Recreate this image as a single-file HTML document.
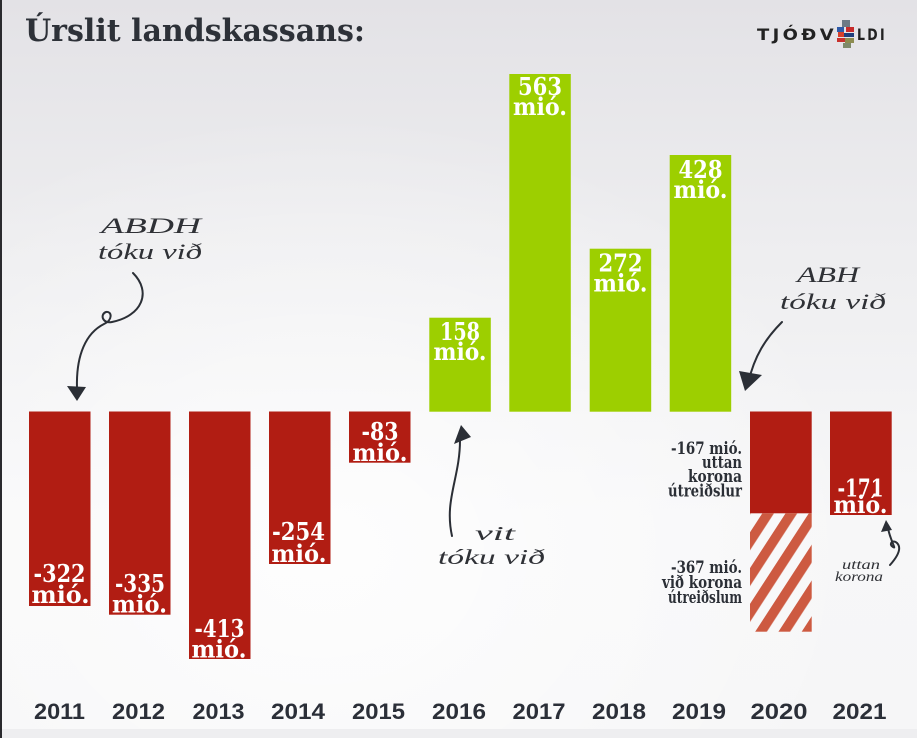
<!DOCTYPE html>
<html><head><meta charset="utf-8">
<style>
html,body{margin:0;padding:0;width:917px;height:738px;overflow:hidden;background:#f4f4f5;}
svg{display:block;}
</style></head>
<body>
<svg width="917" height="738" viewBox="0 0 917 738" xmlns="http://www.w3.org/2000/svg">
<defs>
<linearGradient id="bg" x1="0" y1="0" x2="0" y2="1">
<stop offset="0" stop-color="#e3e2e6"/>
<stop offset="0.35" stop-color="#eeeef0"/>
<stop offset="0.7" stop-color="#f7f7f8"/>
<stop offset="1" stop-color="#f6f6f7"/>
</linearGradient>
<radialGradient id="glow" cx="0.35" cy="0.75" r="0.6">
<stop offset="0" stop-color="#ffffff" stop-opacity="0.8"/>
<stop offset="1" stop-color="#ffffff" stop-opacity="0"/>
</radialGradient>
<pattern id="hatch" patternUnits="userSpaceOnUse" width="19.5" height="40" patternTransform="rotate(33 750 513)">
<rect x="0" y="0" width="9.8" height="40" fill="#cd5a41"/>
</pattern>
</defs>
<rect x="0" y="0" width="917" height="738" fill="url(#bg)"/>
<rect x="0" y="0" width="917" height="738" fill="url(#glow)"/>
<rect x="0" y="729" width="917" height="9" fill="#eeeef0"/>
<rect x="0" y="0" width="2" height="738" fill="#2a2a2e"/>

<!-- title -->
<text x="25" y="41" font-family="DejaVu Serif, Liberation Serif, serif" font-weight="bold" font-size="31" fill="#2d3138" textLength="340" lengthAdjust="spacingAndGlyphs">Úrslit landskassans:</text>

<!-- logo -->
<text x="757" y="40" font-family="DejaVu Sans, Liberation Sans, sans-serif" font-weight="bold" font-size="16" fill="#222" textLength="80" lengthAdjust="spacingAndGlyphs" letter-spacing="3">TJÓÐV</text>
<rect x="842" y="20" width="8" height="7" fill="#6d7a86"/>
<rect x="837" y="27" width="7" height="5" fill="#2f5aa8"/>
<rect x="846" y="27" width="8" height="5" fill="#c62a2a"/>
<rect x="838" y="32" width="6" height="5" fill="#d6402b"/>
<rect x="844" y="33" width="10" height="4" fill="#1f3d7a"/>
<rect x="837" y="38" width="8" height="4" fill="#c8302c"/>
<rect x="845" y="38" width="9" height="5" fill="#8d8c50"/>
<rect x="843" y="43" width="8" height="5" fill="#7e8a6a"/>
<text x="857" y="40" font-family="DejaVu Sans, Liberation Sans, sans-serif" font-weight="bold" font-size="16" fill="#222" textLength="30" lengthAdjust="spacingAndGlyphs" letter-spacing="3">LDI</text>

<!-- bars -->
<g fill="#b11d13">
<rect x="29" y="411.5" width="61.5" height="194.5"/>
<rect x="109" y="411.5" width="61.5" height="203.2"/>
<rect x="189" y="411.5" width="61.5" height="247.5"/>
<rect x="269" y="411.5" width="61.5" height="152.5"/>
<rect x="349" y="411.5" width="61.5" height="51.2"/>
<rect x="750" y="411.5" width="61.7" height="101.8"/>
<rect x="830" y="411.5" width="61.7" height="103.5"/>
</g>
<rect x="750" y="513.3" width="61.7" height="118.4" fill="url(#hatch)"/>
<g fill="#9dcf00">
<rect x="429.3" y="317.7" width="61.5" height="94"/>
<rect x="509.3" y="74" width="61.5" height="337.7"/>
<rect x="589.7" y="248.7" width="61.5" height="163"/>
<rect x="669.7" y="155" width="61.5" height="256.7"/>
</g>

<!-- bar labels -->
<g font-family="DejaVu Serif, Liberation Serif, serif" font-weight="bold" font-size="24" fill="#ffffff" text-anchor="middle">
<text x="59.5" y="582" textLength="52" lengthAdjust="spacingAndGlyphs">-322</text>
<text x="60.5" y="603" textLength="58" lengthAdjust="spacingAndGlyphs">mió.</text>
<text x="140" y="592" textLength="50" lengthAdjust="spacingAndGlyphs">-335</text>
<text x="139.5" y="612.5" textLength="55" lengthAdjust="spacingAndGlyphs">mió.</text>
<text x="219.5" y="637" textLength="50" lengthAdjust="spacingAndGlyphs">-413</text>
<text x="219" y="657.5" textLength="55" lengthAdjust="spacingAndGlyphs">mió.</text>
<text x="298.5" y="540" textLength="53" lengthAdjust="spacingAndGlyphs">-254</text>
<text x="299" y="562" textLength="55" lengthAdjust="spacingAndGlyphs">mió.</text>
<text x="380" y="440" textLength="37" lengthAdjust="spacingAndGlyphs">-83</text>
<text x="380" y="461" textLength="55" lengthAdjust="spacingAndGlyphs">mió.</text>
<text x="460" y="340" textLength="40" lengthAdjust="spacingAndGlyphs">158</text>
<text x="460" y="360" textLength="53" lengthAdjust="spacingAndGlyphs">mió.</text>
<text x="540" y="95" textLength="44" lengthAdjust="spacingAndGlyphs">563</text>
<text x="540" y="115" textLength="54" lengthAdjust="spacingAndGlyphs">mió.</text>
<text x="620.5" y="271.5" textLength="44" lengthAdjust="spacingAndGlyphs">272</text>
<text x="620.5" y="291.5" textLength="54" lengthAdjust="spacingAndGlyphs">mió.</text>
<text x="700.5" y="178" textLength="44" lengthAdjust="spacingAndGlyphs">428</text>
<text x="700.5" y="198" textLength="54" lengthAdjust="spacingAndGlyphs">mió.</text>
<text x="860.5" y="496.5" textLength="46" lengthAdjust="spacingAndGlyphs">-171</text>
<text x="860.5" y="513" textLength="54" lengthAdjust="spacingAndGlyphs">mió.</text>
</g>

<!-- 2020 side labels -->
<g font-family="DejaVu Serif, Liberation Serif, serif" font-weight="bold" font-size="16.5" fill="#2b2f36" text-anchor="end">
<text x="742" y="454" textLength="71" lengthAdjust="spacingAndGlyphs">-167 mió.</text>
<text x="742" y="468" textLength="40" lengthAdjust="spacingAndGlyphs">uttan</text>
<text x="742" y="482" textLength="54" lengthAdjust="spacingAndGlyphs">korona</text>
<text x="742" y="496.5" textLength="74" lengthAdjust="spacingAndGlyphs">útreiðslur</text>
<text x="742" y="573" textLength="71" lengthAdjust="spacingAndGlyphs">-367 mió.</text>
<text x="742" y="588" textLength="80" lengthAdjust="spacingAndGlyphs">við korona</text>
<text x="742" y="603" textLength="74" lengthAdjust="spacingAndGlyphs">útreiðslum</text>
</g>

<!-- years -->
<g font-family="Liberation Sans, DejaVu Sans, sans-serif" font-weight="bold" font-size="22" fill="#2b2f38" text-anchor="middle">
<text x="59.5" y="719" textLength="51" lengthAdjust="spacingAndGlyphs">2011</text>
<text x="138.5" y="719" textLength="53" lengthAdjust="spacingAndGlyphs">2012</text>
<text x="218.5" y="719" textLength="52" lengthAdjust="spacingAndGlyphs">2013</text>
<text x="298" y="719" textLength="54" lengthAdjust="spacingAndGlyphs">2014</text>
<text x="378.5" y="719" textLength="53" lengthAdjust="spacingAndGlyphs">2015</text>
<text x="459" y="719" textLength="54" lengthAdjust="spacingAndGlyphs">2016</text>
<text x="539" y="719" textLength="53" lengthAdjust="spacingAndGlyphs">2017</text>
<text x="619" y="719" textLength="54" lengthAdjust="spacingAndGlyphs">2018</text>
<text x="699" y="719" textLength="54" lengthAdjust="spacingAndGlyphs">2019</text>
<text x="779" y="719" textLength="57" lengthAdjust="spacingAndGlyphs">2020</text>
<text x="859.5" y="719" textLength="54" lengthAdjust="spacingAndGlyphs">2021</text>
</g>

<!-- handwritten annotations -->
<g font-family="Liberation Serif, DejaVu Serif, serif" font-style="italic" fill="#2f3136">
<text x="101" y="233" font-size="22" textLength="100" lengthAdjust="spacingAndGlyphs">ABDH</text>
<text x="98" y="259" font-size="22" textLength="104" lengthAdjust="spacingAndGlyphs">tóku við</text>
<text x="797" y="282" font-size="22" textLength="62" lengthAdjust="spacingAndGlyphs">ABH</text>
<text x="780" y="309" font-size="22" textLength="106" lengthAdjust="spacingAndGlyphs">tóku við</text>
<text x="475" y="540" font-size="20" textLength="40" lengthAdjust="spacingAndGlyphs">vit</text>
<text x="438" y="564" font-size="21" textLength="107" lengthAdjust="spacingAndGlyphs">tóku við</text>
<text x="842" y="569" font-size="14" textLength="38" lengthAdjust="spacingAndGlyphs">uttan</text>
<text x="835" y="581" font-size="14" textLength="48" lengthAdjust="spacingAndGlyphs">korona</text>
</g>

<!-- arrows -->
<g fill="none" stroke="#2b2f36" stroke-width="2" stroke-linecap="round">
<path d="M133,273 C152,292 142,316 112,322 C102,324 100,314 106,312 C112,311 113,320 104,324 C86,333 76,355 77,388"/>
<path d="M782,322 C766,338 754,356 748,384"/>
<path d="M452,536 C444,500 460,478 460,440"/>
<path d="M890,565 C898,556 902,548 897,543 C893,539 888,544 893,547 C897,550 890,540 888,528"/>
</g>
<g fill="#2b2f36">
<polygon points="67,386 86,387 77,401"/>
<polygon points="739,371 762,375 745,391"/>
<polygon points="454,444 471,437 461,425"/>
<polygon points="881,532 892,530 886,520"/>
</g>
</svg>
</body></html>
